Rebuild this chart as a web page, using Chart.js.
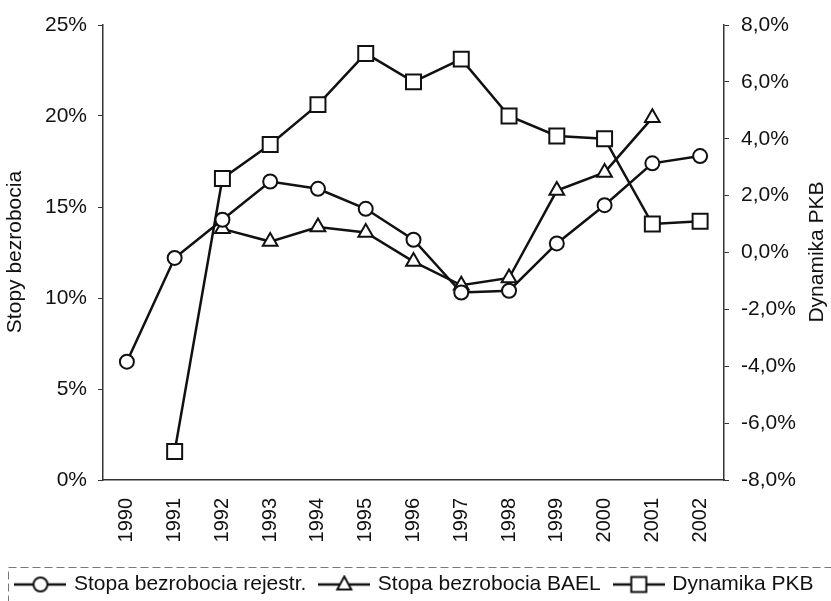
<!DOCTYPE html>
<html>
<head>
<meta charset="utf-8">
<script src="https://cdn.jsdelivr.net/npm/chart.js@4.4.0/dist/chart.umd.min.js"></script>
<style>
  html, body { margin: 0; padding: 0; background: #fff; }
</style>
</head>
<body>
<canvas id="chart" width="831" height="601"></canvas>
<script>
'use strict';

var years = ['1990', '1991', '1992', '1993', '1994', '1995', '1996', '1997', '1998', '1999', '2000', '2001', '2002'];
var stopaRejestr = [6.5, 12.2, 14.3, 16.4, 16.0, 14.9, 13.2, 10.3, 10.4, 13.0, 15.1, 17.4, 17.8];
var stopaBael = [null, null, 13.8, 13.1, 13.9, 13.6, 12.0, 10.7, 11.1, 15.9, 16.9, 19.9, null];
var dynamikaPkb = [null, -7.0, 2.6, 3.8, 5.2, 7.0, 6.0, 6.8, 4.8, 4.1, 4.0, 1.0, 1.1];
var seriesNames = ['Stopa bezrobocia rejestr.', 'Stopa bezrobocia BAEL', 'Dynamika PKB'];
var leftTitle = 'Stopy bezrobocia';
var rightTitle = 'Dynamika PKB';

var FONT = "'Liberation Sans', Arial, sans-serif";
var INK = '#111';
var AXIS = '#333';


// little "line + marker" pictures for the legend
var makeLegendIcon = function(style){
  var c = document.createElement('canvas');
  c.width = 52;
  c.height = 20;
  var ctx = c.getContext('2d');
  ctx.strokeStyle = INK;
  ctx.lineWidth = 2.5;
  ctx.beginPath();
  ctx.moveTo(0, 10);
  ctx.lineTo(52, 10);
  ctx.stroke();
  ctx.fillStyle = '#fff';
  ctx.lineWidth = 2;
  ctx.beginPath();
  if (style === 'circle') {
    ctx.arc(26, 10, 7, 0, Math.PI * 2);
  } else if (style === 'triangle') {
    ctx.moveTo(26, 2);
    ctx.lineTo(33, 15);
    ctx.lineTo(19, 15);
    ctx.closePath();
  } else {
    ctx.rect(18.5, 2.5, 15, 15);
  }
  ctx.fill();
  ctx.stroke();
  return c;
};

var legendIcons = [makeLegendIcon('circle'), makeLegendIcon('triangle'), makeLegendIcon('rect')];


var makeDataset = function(label, data, style, radius, axis){
  return {
    label: label,
    data: data,
    yAxisID: axis,
    borderColor: INK,
    backgroundColor: '#fff',
    borderWidth: 2.5,
    pointStyle: style,
    pointRadius: radius,
    pointHoverRadius: radius,
    pointBorderWidth: 2,
    pointBorderColor: INK,
    pointBackgroundColor: '#fff',
    tension: 0
  };
};


//
//  extras: rotated axis titles and the dashed frame round the legend
//
var extras = {
  id: 'extras',
  afterDraw: function(chart){
    var ctx = chart.ctx;
    ctx.save();
    ctx.fillStyle = INK;
    ctx.font = '21px ' + FONT;
    ctx.textAlign = 'center';
    ctx.textBaseline = 'middle';
    [[15, leftTitle], [817, rightTitle]].forEach(function(t){
      ctx.save();
      ctx.translate(t[0], 252);
      ctx.rotate(-Math.PI / 2);
      ctx.fillText(t[1], 0, 0);
      ctx.restore();
    });
    ctx.setLineDash([8, 4]);
    ctx.strokeStyle = '#777';
    ctx.lineWidth = 1;
    ctx.strokeRect(8.5, 567.5, 840, 60);
    ctx.restore();
  }
};


var axisBorder = { display: true, color: AXIS, width: 1.5, dash: [10, 3] };

var createChart = function(){
  var canvas = document.getElementById('chart');
  return new Chart(canvas, {
    type: 'line',
    data: {
      labels: years,
      datasets: [
        makeDataset(seriesNames[0], stopaRejestr, 'circle', 7, 'y'),
        makeDataset(seriesNames[1], stopaBael, 'triangle', 8.5, 'y'),
        makeDataset(seriesNames[2], dynamikaPkb, 'rect', 10.6, 'y1')
      ]
    },
    options: {
      responsive: false,
      animation: false,
      devicePixelRatio: 1,
      layout: { padding: { top: 25, left: 0, right: 0, bottom: -4 } },
      plugins: {
        tooltip: { enabled: false },
        legend: {
          position: 'bottom',
          labels: {
            usePointStyle: true,
            pointStyleWidth: 46,
            padding: 15,
            color: INK,
            font: { family: FONT, size: 21 },
            generateLabels: function(chart){
              var items = Chart.defaults.plugins.legend.labels.generateLabels(chart);
              items.forEach(function(item, i){ item.pointStyle = legendIcons[i]; });
              return items;
            }
          }
        }
      },
      scales: {
        x: {
          offset: true,
          grid: { display: false, drawTicks: false },
          border: axisBorder,
          ticks: {
            autoSkip: false,
            minRotation: 90,
            maxRotation: 90,
            padding: 18,
            color: INK,
            font: { family: FONT, size: 20 }
          },
          afterFit: function(s){ s.height = 79; }
        },
        y: {
          position: 'left',
          min: 0,
          max: 25,
          grid: { drawOnChartArea: false, tickLength: 5, color: AXIS },
          border: axisBorder,
          ticks: {
            stepSize: 5,
            padding: 11,
            color: INK,
            font: { family: FONT, size: 21 },
            callback: function(v){ return v + '%'; }
          },
          afterFit: function(s){ s.width = 103; }
        },
        y1: {
          position: 'right',
          min: -8,
          max: 8,
          grid: { drawOnChartArea: false, tickLength: 5, color: AXIS },
          border: axisBorder,
          ticks: {
            stepSize: 2,
            padding: 12,
            color: INK,
            font: { family: FONT, size: 21 },
            callback: function(v){ return v.toFixed(1).replace('.', ',') + '%'; }
          },
          afterFit: function(s){ s.width = 107; }
        }
      }
    },
    plugins: [extras]
  });
};


!function(){
  createChart();
}();
</script>
</body>
</html>
